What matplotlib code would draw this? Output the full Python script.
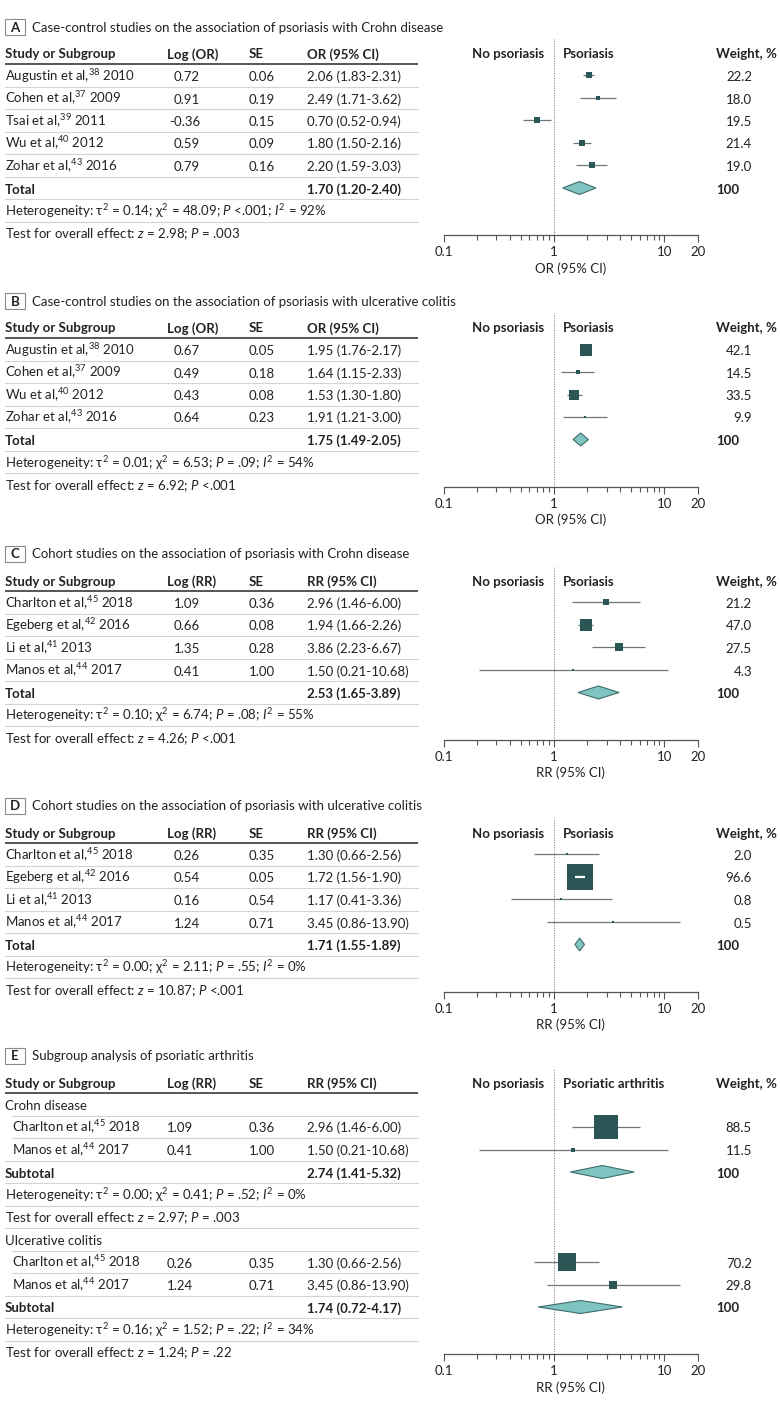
import matplotlib
matplotlib.use("Agg")
import matplotlib.pyplot as plt
from matplotlib.patches import Polygon, Rectangle

plt.rcParams['font.family'] = ['Lato', 'DejaVu Sans']
plt.rcParams['mathtext.fontset'] = 'custom'
plt.rcParams['mathtext.rm'] = 'Lato'
plt.rcParams['mathtext.it'] = 'Lato:italic'
plt.rcParams['mathtext.bf'] = 'Lato:bold'
plt.rcParams['mathtext.default'] = 'regular'

# ---- data ----
# A: case-control, Crohn disease
a_studies = [r"Augustin et al,$^{38}$ 2010", r"Cohen et al,$^{37}$ 2009", r"Tsai et al,$^{39}$ 2011",
             r"Wu et al,$^{40}$ 2012", r"Zohar et al,$^{43}$ 2016"]
a_log = ["0.72", "0.91", "-0.36", "0.59", "0.79"]
a_se = ["0.06", "0.19", "0.15", "0.09", "0.16"]
a_est = [2.06, 2.49, 0.70, 1.80, 2.20]
a_lo = [1.83, 1.71, 0.52, 1.50, 1.59]
a_hi = [2.31, 3.62, 0.94, 2.16, 3.03]
a_wt = [22.2, 18.0, 19.5, 21.4, 19.0]
a_total = [1.70, 1.20, 2.40]
a_het = r"Heterogeneity: τ$^2$ = 0.14; χ$^2$ = 48.09; $\mathit{P}$ <.001; $\mathit{I}^2$ = 92%"
a_test = r"Test for overall effect: $\mathit{z}$ = 2.98; $\mathit{P}$ = .003"

# B: case-control, ulcerative colitis
b_studies = [r"Augustin et al,$^{38}$ 2010", r"Cohen et al,$^{37}$ 2009",
             r"Wu et al,$^{40}$ 2012", r"Zohar et al,$^{43}$ 2016"]
b_log = ["0.67", "0.49", "0.43", "0.64"]
b_se = ["0.05", "0.18", "0.08", "0.23"]
b_est = [1.95, 1.64, 1.53, 1.91]
b_lo = [1.76, 1.15, 1.30, 1.21]
b_hi = [2.17, 2.33, 1.80, 3.00]
b_wt = [42.1, 14.5, 33.5, 9.9]
b_total = [1.75, 1.49, 2.05]
b_het = r"Heterogeneity: τ$^2$ = 0.01; χ$^2$ = 6.53; $\mathit{P}$ = .09; $\mathit{I}^2$ = 54%"
b_test = r"Test for overall effect: $\mathit{z}$ = 6.92; $\mathit{P}$ <.001"

# C: cohort, Crohn disease
c_studies = [r"Charlton et al,$^{45}$ 2018", r"Egeberg et al,$^{42}$ 2016",
             r"Li et al,$^{41}$ 2013", r"Manos et al,$^{44}$ 2017"]
c_log = ["1.09", "0.66", "1.35", "0.41"]
c_se = ["0.36", "0.08", "0.28", "1.00"]
c_est = [2.96, 1.94, 3.86, 1.50]
c_lo = [1.46, 1.66, 2.23, 0.21]
c_hi = [6.00, 2.26, 6.67, 10.68]
c_wt = [21.2, 47.0, 27.5, 4.3]
c_total = [2.53, 1.65, 3.89]
c_het = r"Heterogeneity: τ$^2$ = 0.10; χ$^2$ = 6.74; $\mathit{P}$ = .08; $\mathit{I}^2$ = 55%"
c_test = r"Test for overall effect: $\mathit{z}$ = 4.26; $\mathit{P}$ <.001"

# D: cohort, ulcerative colitis
d_studies = c_studies
d_log = ["0.26", "0.54", "0.16", "1.24"]
d_se = ["0.35", "0.05", "0.54", "0.71"]
d_est = [1.30, 1.72, 1.17, 3.45]
d_lo = [0.66, 1.56, 0.41, 0.86]
d_hi = [2.56, 1.90, 3.36, 13.90]
d_wt = [2.0, 96.6, 0.8, 0.5]
d_total = [1.71, 1.55, 1.89]
d_het = r"Heterogeneity: τ$^2$ = 0.00; χ$^2$ = 2.11; $\mathit{P}$ = .55; $\mathit{I}^2$ = 0%"
d_test = r"Test for overall effect: $\mathit{z}$ = 10.87; $\mathit{P}$ <.001"

# E: psoriatic arthritis subgroups
e_studies = [r"Charlton et al,$^{45}$ 2018", r"Manos et al,$^{44}$ 2017"]
e1_log = ["1.09", "0.41"]
e1_se = ["0.36", "1.00"]
e1_est = [2.96, 1.50]
e1_lo = [1.46, 0.21]
e1_hi = [6.00, 10.68]
e1_wt = [88.5, 11.5]
e1_total = [2.74, 1.41, 5.32]
e1_het = r"Heterogeneity: τ$^2$ = 0.00; χ$^2$ = 0.41; $\mathit{P}$ = .52; $\mathit{I}^2$ = 0%"
e1_test = r"Test for overall effect: $\mathit{z}$ = 2.97; $\mathit{P}$ = .003"
e2_log = ["0.26", "1.24"]
e2_se = ["0.35", "0.71"]
e2_est = [1.30, 3.45]
e2_lo = [0.66, 0.86]
e2_hi = [2.56, 13.90]
e2_wt = [70.2, 29.8]
e2_total = [1.74, 0.72, 4.17]
e2_het = r"Heterogeneity: τ$^2$ = 0.16; χ$^2$ = 1.52; $\mathit{P}$ = .22; $\mathit{I}^2$ = 34%"
e2_test = r"Test for overall effect: $\mathit{z}$ = 1.24; $\mathit{P}$ = .22"

# ---- layout ----
W, H = 780, 1409
ROW = 22.5
FS = 9.5
TXT = '#222222'
SQ = '#2a5656'
CI_COL = '#6b7878'
DIA_FC = '#7fc4c0'
DIA_EC = '#3f6d6d'
FX0, FX1 = 443.5, 697.6          # forest axis pixel span (0.1 .. 20)
PX_DEC = (FX1 - FX0) / 2.30103

fig = plt.figure(figsize=(W / 100, H / 100), dpi=100)
bg = fig.add_axes([0, 0, 1, 1])
bg.set_xlim(0, W)
bg.set_ylim(H, 0)
bg.axis('off')


def txt(x, y, s, ha='left', weight='normal'):
    bg.text(x, y + 5.5, s, ha=ha, va='baseline', fontsize=FS, color=TXT, fontweight=weight)


def ci_str(e, l, h):
    return f"{e:.2f} ({l:.2f}-{h:.2f})"


def block(group, studies, logs, ses, est, lo, hi, wt, total, het, test, total_label):
    return dict(group=group, studies=studies, logs=logs, ses=ses, est=est, lo=lo, hi=hi,
                wt=wt, total=total, het=het, test=test, total_label=total_label)


def draw_panel(letter, title, hy, measure, right_label, blocks, log_left=False, indent=0):
    ty = hy - 27
    bg.add_patch(Rectangle((5, ty - 7), 20, 16, fill=False, ec='#8a8a8a', lw=0.8))
    txt(15, ty, letter, ha='center', weight='bold')
    txt(32, ty, title)
    txt(5, hy, "Study or Subgroup", weight='bold')
    txt(167, hy, f"Log ({measure})", weight='bold')
    txt(249, hy, "SE", weight='bold')
    txt(307, hy, f"{measure} (95% CI)", weight='bold')
    txt(544, hy, "No psoriasis", ha='right', weight='bold')
    txt(563, hy, right_label, weight='bold')
    txt(716, hy, "Weight, %", weight='bold')
    bg.plot([5, 418], [hy + 11, hy + 11], color='#555555', lw=1.4, solid_capstyle='butt')

    n = sum(len(b['studies']) + 3 + (1 if b['group'] else 0) for b in blocks)
    axis_y = hy + n * ROW + 2
    top_y = hy - 14
    ax = fig.add_axes([FX0 / W, 1 - axis_y / H, (FX1 - FX0) / W, (axis_y - top_y) / H])
    ax.set_xscale('log')
    ax.set_xlim(0.1, 20)
    ax.set_ylim(axis_y, top_y)
    ax.patch.set_visible(False)
    for s in ['left', 'right', 'top']:
        ax.spines[s].set_visible(False)
    ax.spines['bottom'].set_color('#555555')
    ax.spines['bottom'].set_linewidth(0.9)
    ax.set_yticks([])
    ax.set_xticks([0.1, 1, 10, 20])
    ax.set_xticklabels(['0.1', '1', '10', '20'])
    ax.set_xticks([0.2, 0.3, 0.4, 0.5, 0.6, 0.7, 0.8, 0.9, 2, 3, 4, 5, 6, 7, 8, 9], minor=True)
    ax.xaxis.set_minor_formatter(plt.NullFormatter())
    ax.tick_params(axis='x', which='major', length=5, width=0.8, color='#555555',
                   labelsize=FS, labelcolor=TXT, pad=3)
    ax.tick_params(axis='x', which='minor', length=3.5, width=0.8, color='#555555')
    ax.set_xlabel(f"{measure} (95% CI)", fontsize=FS, color=TXT, labelpad=3)
    ax.axvline(1, color='#8a8a8a', lw=0.8, ls=(0, (1, 1.2)), zorder=0)

    y = hy
    seps = []
    for b in blocks:
        if b['group']:
            y += ROW
            txt(5, y, b['group'])
            seps.append((y, 5 + indent))
        for i, name in enumerate(b['studies']):
            y += ROW
            txt(5 + indent, y, name)
            if log_left:
                txt(167, y, b['logs'][i])
            else:
                txt(200, y, b['logs'][i], ha='right')
            txt(249, y, b['ses'][i])
            txt(307, y, ci_str(b['est'][i], b['lo'][i], b['hi'][i]))
            txt(752, y, f"{b['wt'][i]:.1f}", ha='right')
            seps.append((y, 5 + indent if i < len(b['studies']) - 1 else 5))
            side = max(2.2, 0.27 * b['wt'][i])
            e, lo, hi = b['est'][i], b['lo'][i], b['hi'][i]
            ax.plot([lo, hi], [y, y], color=CI_COL, lw=0.9, zorder=2, solid_capstyle='butt')
            ax.plot([e], [y], marker='s', ms=side * 0.72, mfc=SQ, mec=SQ, mew=0, zorder=3)
            half = side / 2 - 2
            f = 10 ** (half / PX_DEC)
            if lo > e / f and hi < e * f:
                ax.plot([lo, hi], [y, y], color='white', lw=1.6, zorder=4, solid_capstyle='butt')
        y += ROW
        txt(5, y, b['total_label'], weight='bold')
        te, tl, th = b['total']
        txt(307, y, ci_str(te, tl, th), weight='bold')
        txt(716, y, "100", weight='bold')
        seps.append((y, 5))
        ax.add_patch(Polygon([(tl, y), (te, y - 6.5), (th, y), (te, y + 6.5)], closed=True,
                             fc=DIA_FC, ec=DIA_EC, lw=0.8, zorder=3))
        y += ROW
        txt(5, y, b['het'])
        seps.append((y, 5))
        y += ROW
        txt(5, y, b['test'])
        seps.append((y, 5))
    for sy, x0 in seps[:-1]:
        bg.plot([x0, 418], [sy + ROW / 2, sy + ROW / 2], color='#d4d4d4', lw=0.8)


draw_panel("A", "Case-control studies on the association of psoriasis with Crohn disease", 53, "OR",
           "Psoriasis",
           [block(None, a_studies, a_log, a_se, a_est, a_lo, a_hi, a_wt, a_total, a_het, a_test, "Total")])
draw_panel("B", "Case-control studies on the association of psoriasis with ulcerative colitis", 327, "OR",
           "Psoriasis",
           [block(None, b_studies, b_log, b_se, b_est, b_lo, b_hi, b_wt, b_total, b_het, b_test, "Total")])
draw_panel("C", "Cohort studies on the association of psoriasis with Crohn disease", 580, "RR",
           "Psoriasis",
           [block(None, c_studies, c_log, c_se, c_est, c_lo, c_hi, c_wt, c_total, c_het, c_test, "Total")])
draw_panel("D", "Cohort studies on the association of psoriasis with ulcerative colitis", 832, "RR",
           "Psoriasis",
           [block(None, d_studies, d_log, d_se, d_est, d_lo, d_hi, d_wt, d_total, d_het, d_test, "Total")])
draw_panel("E", "Subgroup analysis of psoriatic arthritis", 1082, "RR", "Psoriatic arthritis",
           [block("Crohn disease", e_studies, e1_log, e1_se, e1_est, e1_lo, e1_hi, e1_wt, e1_total,
                  e1_het, e1_test, "Subtotal"),
            block("Ulcerative colitis", e_studies, e2_log, e2_se, e2_est, e2_lo, e2_hi, e2_wt, e2_total,
                  e2_het, e2_test, "Subtotal")],
           log_left=True, indent=7)

fig.savefig("out.png", dpi=100)
